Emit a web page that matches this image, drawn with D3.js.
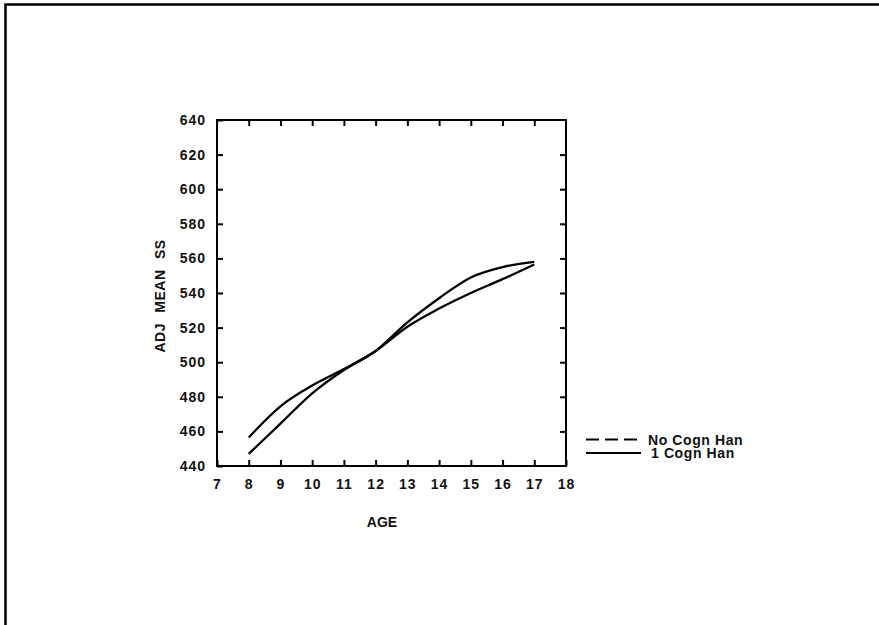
<!DOCTYPE html>
<html>
<head>
<meta charset="utf-8">
<script src="https://cdn.jsdelivr.net/npm/d3@7"></script>
<style>
  body { margin: 0; background: #fff; }
  text { font-family: "Liberation Sans", Arial, sans-serif; fill: #111; }
</style>
</head>
<body>
<script>
//ages on the x axis
const ages = [8, 9, 10, 11, 12, 13, 14, 15, 16, 17]
//adjusted mean scale scores
const noCognHan = [447, 464.5, 482, 495.5, 506.5, 523, 537, 549, 555, 558]
const oneCognHan = [456.5, 474.5, 486.5, 496, 506.5, 520.5, 531, 540, 548, 556.5]
//tick labels
const xTicks = [7, 8, 9, 10, 11, 12, 13, 14, 15, 16, 17, 18]
const yTicks = [440, 460, 480, 500, 520, 540, 560, 580, 600, 620, 640]
const seriesNames = ['No Cogn Han', '1 Cogn Han']

const width = 879
const height = 625

const svg = d3.select('body')
  .append('svg')
  .attr('width', width)
  .attr('height', height)

//scanned page border (top and left only)
svg.append('path')
  .attr('d', `M5.5,625 V4.5 H879`)
  .attr('fill', 'none')
  .attr('stroke', '#000')
  .attr('stroke-width', 2.5)

//plot box
const margin = { left: 217, top: 120, right: 879 - 566, bottom: 625 - 466 }
const innerWidth = width - margin.left - margin.right
const innerHeight = height - margin.top - margin.bottom

const xScale = d3.scaleLinear().domain([7, 18]).range([0, innerWidth])
const yScale = d3.scaleLinear().domain([440, 640]).range([innerHeight, 0])

const g = svg.append('g')
  .attr('transform', `translate(${margin.left},${margin.top})`)

//=================== AXES ==================
//inward ticks on every side
const tick = 6
const bottomAxis = g.append('g')
  .attr('transform', `translate(0,${innerHeight})`)
  .call(d3.axisBottom(xScale).tickValues(xTicks).tickSize(-tick).tickPadding(13).tickSizeOuter(0))
const topAxis = g.append('g')
  .call(d3.axisTop(xScale).tickValues(xTicks.slice(1, -1)).tickSize(-tick).tickFormat('').tickSizeOuter(0))
const leftAxis = g.append('g')
  .call(d3.axisLeft(yScale).tickValues(yTicks).tickSize(-tick).tickPadding(11).tickSizeOuter(0))
const rightAxis = g.append('g')
  .attr('transform', `translate(${innerWidth},0)`)
  .call(d3.axisRight(yScale).tickValues(yTicks.slice(1, -1)).tickSize(-tick).tickFormat('').tickSizeOuter(0))

;[bottomAxis, topAxis, leftAxis, rightAxis].forEach(a => {
  a.select('.domain').remove()
  a.selectAll('line').attr('stroke', '#000').attr('stroke-width', 2)
  a.selectAll('text')
    .style('font-family', '"Liberation Sans", Arial, sans-serif')
    .style('font-size', '14px')
    .style('font-weight', 'bold')
    .style('letter-spacing', '1px')
    .attr('fill', '#111')
})

//box around the plot
g.append('rect')
  .attr('width', innerWidth)
  .attr('height', innerHeight)
  .attr('fill', 'none')
  .attr('stroke', '#000')
  .attr('stroke-width', 2)

//axis labels
g.append('text')
  .text('AGE')
  .attr('x', xScale(12.2))
  .attr('y', innerHeight + 61)
  .attr('text-anchor', 'middle')
  .style('font-size', '14px')
  .style('font-weight', 'bold')

g.append('text')
  .text('ADJ  MEAN  SS')
  .attr('transform', `translate(-52,${innerHeight / 2 + 3}) rotate(-90)`)
  .attr('text-anchor', 'middle')
  .style('font-size', '14px')
  .style('font-weight', 'bold')
  .style('letter-spacing', '0.5px')
  .style('word-spacing', '6px')

//=================== LINES ==================
const line = d3.line()
  .x((d, i) => xScale(ages[i]))
  .y(d => yScale(d))
  .curve(d3.curveMonotoneX)

;[noCognHan, oneCognHan].forEach(values => {
  g.append('path')
    .datum(values)
    .attr('d', line)
    .attr('fill', 'none')
    .attr('stroke', '#000')
    .attr('stroke-width', 2.3)
})

//=================== LEGEND ==================
const legend = svg.append('g')

seriesNames.forEach((name, i) => {
  const y = 439.5 + i * 13.5
  legend.append('line')
    .attr('x1', 586)
    .attr('x2', 641)
    .attr('y1', y)
    .attr('y2', y)
    .attr('stroke', '#000')
    .attr('stroke-width', 2)
    .attr('stroke-dasharray', i === 0 ? '13,6' : null)
  legend.append('text')
    .text(name)
    .attr('x', i === 0 ? 648 : 651)
    .attr('y', y + 5)
    .style('font-size', '14px')
    .style('font-weight', 'bold')
    .style('letter-spacing', '0.6px')
})
</script>
</body>
</html>
